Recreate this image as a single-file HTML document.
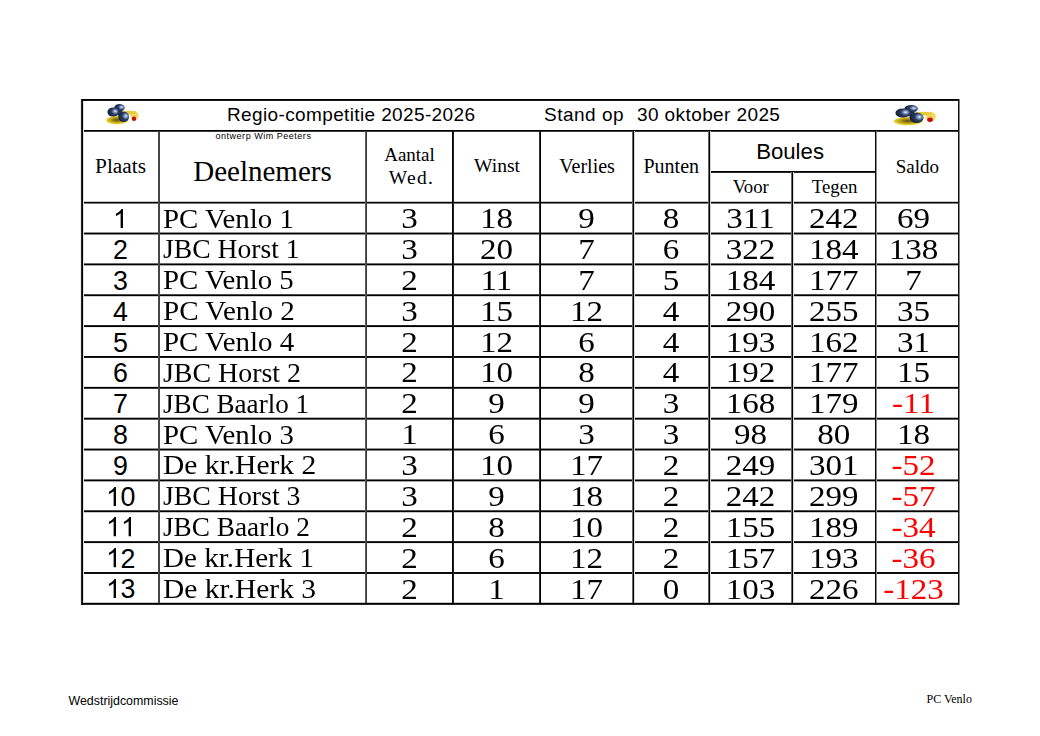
<!DOCTYPE html>
<html><head><meta charset="utf-8"><style>
html,body{margin:0;padding:0;background:#fff;}
body{width:1040px;height:736px;position:relative;overflow:hidden;color:#000;}
i{position:absolute;display:block;}
.t{position:absolute;white-space:nowrap;}
</style></head><body>
<svg class="t" style="left:104px;top:102px" width="38.0" height="26.0" viewBox="0 0 38 26" preserveAspectRatio="none">
<defs>
<radialGradient id="bga" cx="0.7" cy="0.42" r="0.8"><stop offset="0" stop-color="#eef6ff"/><stop offset="0.16" stop-color="#8aa2d2"/><stop offset="0.42" stop-color="#2c3d60"/><stop offset="1" stop-color="#0e1628"/></radialGradient>
<radialGradient id="yga" cx="0.45" cy="0.45" r="0.55"><stop offset="0" stop-color="#5a4810"/><stop offset="0.45" stop-color="#b8a018"/><stop offset="0.75" stop-color="#e6d030"/><stop offset="1" stop-color="#f4e890" stop-opacity="0"/></radialGradient>
<radialGradient id="pga" cx="0.5" cy="0.5" r="0.5"><stop offset="0" stop-color="#f0d050"/><stop offset="0.7" stop-color="#f2dc70"/><stop offset="1" stop-color="#f8eeb0" stop-opacity="0"/></radialGradient>
<filter id="fa" x="-0.2" y="-0.2" width="1.4" height="1.4"><feGaussianBlur stdDeviation="0.35"/></filter>
</defs>
<g filter="url(#fa)">
<ellipse cx="30.5" cy="13.5" rx="5" ry="5.5" fill="url(#pga)"/>
<ellipse cx="25" cy="10.6" rx="7" ry="1.8" fill="#e4cc38"/>
<ellipse cx="14" cy="18.4" rx="12" ry="4.6" fill="url(#yga)"/>
<ellipse cx="14.5" cy="10.5" rx="4" ry="3" fill="#26344c"/>
<ellipse cx="15.5" cy="5.8" rx="5.2" ry="3.9" fill="url(#bga)"/>
<ellipse cx="9" cy="10" rx="5.6" ry="4.6" fill="url(#bga)"/>
<ellipse cx="19.7" cy="14.8" rx="5.4" ry="5.2" fill="url(#bga)"/>
<circle cx="30" cy="16.8" r="2.2" fill="#c41010"/>
</g>
</svg>
<svg class="t" style="left:890.9px;top:102.8px" width="49.4" height="26.0" viewBox="0 0 38 26" preserveAspectRatio="none">
<defs>
<radialGradient id="bgb" cx="0.7" cy="0.42" r="0.8"><stop offset="0" stop-color="#eef6ff"/><stop offset="0.16" stop-color="#8aa2d2"/><stop offset="0.42" stop-color="#2c3d60"/><stop offset="1" stop-color="#0e1628"/></radialGradient>
<radialGradient id="ygb" cx="0.45" cy="0.45" r="0.55"><stop offset="0" stop-color="#5a4810"/><stop offset="0.45" stop-color="#b8a018"/><stop offset="0.75" stop-color="#e6d030"/><stop offset="1" stop-color="#f4e890" stop-opacity="0"/></radialGradient>
<radialGradient id="pgb" cx="0.5" cy="0.5" r="0.5"><stop offset="0" stop-color="#f0d050"/><stop offset="0.7" stop-color="#f2dc70"/><stop offset="1" stop-color="#f8eeb0" stop-opacity="0"/></radialGradient>
<filter id="fb" x="-0.2" y="-0.2" width="1.4" height="1.4"><feGaussianBlur stdDeviation="0.35"/></filter>
</defs>
<g filter="url(#fb)">
<ellipse cx="30.5" cy="13.5" rx="5" ry="5.5" fill="url(#pgb)"/>
<ellipse cx="25" cy="10.6" rx="7" ry="1.8" fill="#e4cc38"/>
<ellipse cx="14" cy="18.4" rx="12" ry="4.6" fill="url(#ygb)"/>
<ellipse cx="14.5" cy="10.5" rx="4" ry="3" fill="#26344c"/>
<ellipse cx="15.5" cy="5.8" rx="5.2" ry="3.9" fill="url(#bgb)"/>
<ellipse cx="9" cy="10" rx="5.6" ry="4.6" fill="url(#bgb)"/>
<ellipse cx="19.7" cy="14.8" rx="5.4" ry="5.2" fill="url(#bgb)"/>
<circle cx="30" cy="16.8" r="2.2" fill="#c41010"/>
</g>
</svg>
<i style="left:81px;top:99px;width:879px;height:1px;background:#000000"></i>
<i style="left:81px;top:100px;width:879px;height:1px;background:#141414"></i>
<i style="left:81px;top:130px;width:879px;height:1px;background:#000000"></i>
<i style="left:81px;top:131px;width:879px;height:1px;background:#3c3c3c"></i>
<i style="left:81px;top:201px;width:879px;height:1px;background:#c8c8c8"></i>
<i style="left:81px;top:202px;width:879px;height:1px;background:#000000"></i>
<i style="left:81px;top:203px;width:879px;height:1px;background:#787878"></i>
<i style="left:81px;top:232px;width:879px;height:1px;background:#919191"></i>
<i style="left:81px;top:233px;width:879px;height:1px;background:#000000"></i>
<i style="left:81px;top:234px;width:879px;height:1px;background:#878787"></i>
<i style="left:81px;top:263px;width:879px;height:1px;background:#6e6e6e"></i>
<i style="left:81px;top:264px;width:879px;height:1px;background:#000000"></i>
<i style="left:81px;top:265px;width:879px;height:1px;background:#ababab"></i>
<i style="left:81px;top:294px;width:879px;height:1px;background:#4a4a4a"></i>
<i style="left:81px;top:295px;width:879px;height:1px;background:#000000"></i>
<i style="left:81px;top:296px;width:879px;height:1px;background:#cfcfcf"></i>
<i style="left:81px;top:325px;width:879px;height:1px;background:#262626"></i>
<i style="left:81px;top:326px;width:879px;height:1px;background:#000000"></i>
<i style="left:81px;top:327px;width:879px;height:1px;background:#f2f2f2"></i>
<i style="left:81px;top:356px;width:879px;height:1px;background:#030303"></i>
<i style="left:81px;top:357px;width:879px;height:1px;background:#171717"></i>
<i style="left:81px;top:386px;width:879px;height:1px;background:#dedede"></i>
<i style="left:81px;top:387px;width:879px;height:1px;background:#000000"></i>
<i style="left:81px;top:388px;width:879px;height:1px;background:#3b3b3b"></i>
<i style="left:81px;top:417px;width:879px;height:1px;background:#bababa"></i>
<i style="left:81px;top:418px;width:879px;height:1px;background:#000000"></i>
<i style="left:81px;top:419px;width:879px;height:1px;background:#5e5e5e"></i>
<i style="left:81px;top:448px;width:879px;height:1px;background:#969696"></i>
<i style="left:81px;top:449px;width:879px;height:1px;background:#000000"></i>
<i style="left:81px;top:450px;width:879px;height:1px;background:#828282"></i>
<i style="left:81px;top:479px;width:879px;height:1px;background:#737373"></i>
<i style="left:81px;top:480px;width:879px;height:1px;background:#000000"></i>
<i style="left:81px;top:481px;width:879px;height:1px;background:#a6a6a6"></i>
<i style="left:81px;top:510px;width:879px;height:1px;background:#4f4f4f"></i>
<i style="left:81px;top:511px;width:879px;height:1px;background:#000000"></i>
<i style="left:81px;top:512px;width:879px;height:1px;background:#c9c9c9"></i>
<i style="left:81px;top:541px;width:879px;height:1px;background:#2b2b2b"></i>
<i style="left:81px;top:542px;width:879px;height:1px;background:#000000"></i>
<i style="left:81px;top:543px;width:879px;height:1px;background:#ededed"></i>
<i style="left:81px;top:572px;width:879px;height:1px;background:#080808"></i>
<i style="left:81px;top:573px;width:879px;height:1px;background:#121212"></i>
<i style="left:81px;top:602px;width:879px;height:1px;background:#c8c8c8"></i>
<i style="left:81px;top:603px;width:879px;height:1px;background:#000000"></i>
<i style="left:81px;top:604px;width:879px;height:1px;background:#282828"></i>
<i style="left:709px;top:171px;width:167px;height:1px;background:#000000"></i>
<i style="left:709px;top:172px;width:167px;height:1px;background:#282828"></i>
<i style="left:80px;top:99px;width:1px;height:506px;background:#ebebeb"></i>
<i style="left:81px;top:99px;width:1px;height:506px;background:#282828"></i>
<i style="left:82px;top:99px;width:1px;height:506px;background:#000000"></i>
<i style="left:83px;top:101px;width:1px;height:502px;background:#e1e1e1"></i>
<i style="left:958px;top:99px;width:1px;height:506px;background:#141414"></i>
<i style="left:959px;top:99px;width:1px;height:506px;background:#828282"></i>
<i style="left:158px;top:131px;width:1px;height:472px;background:#4b4b4b"></i>
<i style="left:159px;top:131px;width:1px;height:472px;background:#414141"></i>
<i style="left:365px;top:131px;width:1px;height:472px;background:#5a5a5a"></i>
<i style="left:366px;top:131px;width:1px;height:472px;background:#3c3c3c"></i>
<i style="left:452px;top:131px;width:1px;height:472px;background:#050505"></i>
<i style="left:453px;top:131px;width:1px;height:472px;background:#1e1e1e"></i>
<i style="left:539px;top:131px;width:1px;height:472px;background:#2d2d2d"></i>
<i style="left:540px;top:131px;width:1px;height:472px;background:#000000"></i>
<i style="left:632px;top:131px;width:1px;height:472px;background:#646464"></i>
<i style="left:633px;top:131px;width:1px;height:472px;background:#000000"></i>
<i style="left:634px;top:131px;width:1px;height:472px;background:#d7d7d7"></i>
<i style="left:708px;top:131px;width:1px;height:472px;background:#646464"></i>
<i style="left:709px;top:131px;width:1px;height:472px;background:#000000"></i>
<i style="left:710px;top:131px;width:1px;height:472px;background:#d7d7d7"></i>
<i style="left:875px;top:131px;width:1px;height:472px;background:#0a0a0a"></i>
<i style="left:876px;top:131px;width:1px;height:472px;background:#8c8c8c"></i>
<i style="left:791px;top:172px;width:1px;height:431px;background:#646464"></i>
<i style="left:792px;top:172px;width:1px;height:431px;background:#000000"></i>
<i style="left:793px;top:172px;width:1px;height:431px;background:#d7d7d7"></i>
<div class="t" style="top:105.22px;font-family:'Liberation Sans', sans-serif;font-size:19px;line-height:19px;left:227px;letter-spacing:0.37px;">Regio-competitie 2025-2026</div>
<div class="t" style="top:105.22px;font-family:'Liberation Sans', sans-serif;font-size:19px;line-height:19px;left:544px;letter-spacing:0.5px;">Stand op</div>
<div class="t" style="top:105.22px;font-family:'Liberation Sans', sans-serif;font-size:19px;line-height:19px;left:637px;letter-spacing:0.4px;">30 oktober 2025</div>
<div class="t" style="top:132.18px;font-family:'Liberation Sans', sans-serif;font-size:9px;line-height:9px;left:215.5px;letter-spacing:0.52px;">ontwerp Wim Peeters</div>
<div class="t" style="top:156.16px;font-family:'Liberation Serif', serif;font-size:21.3px;line-height:21.3px;left:82px;width:77.0px;text-align:center;">Plaats</div>
<div class="t" style="top:156.91px;font-family:'Liberation Serif', serif;font-size:29px;line-height:29px;left:159.0px;width:207.0px;text-align:center;">Deelnemers</div>
<div class="t" style="top:144.99px;font-family:'Liberation Serif', serif;font-size:19px;line-height:19px;left:366.0px;width:87.0px;text-align:center;">Aantal</div>
<div class="t" style="top:167.97px;font-family:'Liberation Serif', serif;font-size:19.5px;line-height:19.5px;left:368.0px;width:87.0px;text-align:center;letter-spacing:1.3px;">Wed.</div>
<div class="t" style="top:155.99px;font-family:'Liberation Serif', serif;font-size:19.6px;line-height:19.6px;left:453.5px;width:87.0px;text-align:center;">Winst</div>
<div class="t" style="top:155.65px;font-family:'Liberation Serif', serif;font-size:20px;line-height:20px;left:540.5px;width:93.25px;text-align:center;">Verlies</div>
<div class="t" style="top:155.65px;font-family:'Liberation Serif', serif;font-size:20px;line-height:20px;left:633.25px;width:76.0px;text-align:center;">Punten</div>
<div class="t" style="top:141.41px;font-family:'Liberation Sans', sans-serif;font-size:22.2px;line-height:22.2px;left:706.75px;width:166.64999999999998px;text-align:center;">Boules</div>
<div class="t" style="top:178.25px;font-family:'Liberation Serif', serif;font-size:18.8px;line-height:18.8px;left:709.25px;width:83.0px;text-align:center;">Voor</div>
<div class="t" style="top:178.25px;font-family:'Liberation Serif', serif;font-size:18.8px;line-height:18.8px;left:792.75px;width:83.64999999999998px;text-align:center;">Tegen</div>
<div class="t" style="top:156.69px;font-family:'Liberation Serif', serif;font-size:19px;line-height:19px;left:875.9px;width:83.10000000000002px;text-align:center;">Saldo</div>
<div class="t" style="top:206.07px;font-family:'Liberation Sans', sans-serif;font-size:26.8px;line-height:26.8px;left:82px;width:77.0px;text-align:center;"><svg viewBox="0 0 1139 1472" style="width:0.5562em;height:0.71875em"><path transform="translate(0,1472) scale(1,-1)" d="M763 0H583V1147Q518 1085 412.5 1023Q307 961 223 930V1104Q374 1175 487 1276Q600 1377 647 1472H763Z"/></svg></div>
<div class="t" style="top:204.53px;font-family:'Liberation Serif', serif;font-size:27.5px;line-height:27.5px;left:163.2px;transform:scaleX(1.048);transform-origin:0 0;">PC Venlo 1</div>
<div class="t" style="top:205.19px;font-family:'Liberation Serif', serif;font-size:28.5px;line-height:28.5px;left:366.0px;width:87.0px;text-align:center;transform:scaleX(1.16);">3</div>
<div class="t" style="top:205.19px;font-family:'Liberation Serif', serif;font-size:28.5px;line-height:28.5px;left:453.0px;width:87.0px;text-align:center;transform:scaleX(1.16);">18</div>
<div class="t" style="top:205.19px;font-family:'Liberation Serif', serif;font-size:28.5px;line-height:28.5px;left:540.0px;width:93.25px;text-align:center;transform:scaleX(1.16);">9</div>
<div class="t" style="top:205.19px;font-family:'Liberation Serif', serif;font-size:28.5px;line-height:28.5px;left:633.25px;width:76.0px;text-align:center;transform:scaleX(1.16);">8</div>
<div class="t" style="top:205.19px;font-family:'Liberation Serif', serif;font-size:28.5px;line-height:28.5px;left:709.25px;width:83.0px;text-align:center;transform:scaleX(1.16);">311</div>
<div class="t" style="top:205.19px;font-family:'Liberation Serif', serif;font-size:28.5px;line-height:28.5px;left:792.25px;width:83.64999999999998px;text-align:center;transform:scaleX(1.16);">242</div>
<div class="t" style="top:205.19px;font-family:'Liberation Serif', serif;font-size:28.5px;line-height:28.5px;left:868px;width:91px;text-align:center;transform:scaleX(1.16);">69</div>
<div class="t" style="top:236.93px;font-family:'Liberation Sans', sans-serif;font-size:26.8px;line-height:26.8px;left:82px;width:77.0px;text-align:center;">2</div>
<div class="t" style="top:235.39px;font-family:'Liberation Serif', serif;font-size:27.5px;line-height:27.5px;left:163.2px;transform:scaleX(1.004);transform-origin:0 0;">JBC Horst 1</div>
<div class="t" style="top:236.05px;font-family:'Liberation Serif', serif;font-size:28.5px;line-height:28.5px;left:366.0px;width:87.0px;text-align:center;transform:scaleX(1.16);">3</div>
<div class="t" style="top:236.05px;font-family:'Liberation Serif', serif;font-size:28.5px;line-height:28.5px;left:453.0px;width:87.0px;text-align:center;transform:scaleX(1.16);">20</div>
<div class="t" style="top:236.05px;font-family:'Liberation Serif', serif;font-size:28.5px;line-height:28.5px;left:540.0px;width:93.25px;text-align:center;transform:scaleX(1.16);">7</div>
<div class="t" style="top:236.05px;font-family:'Liberation Serif', serif;font-size:28.5px;line-height:28.5px;left:633.25px;width:76.0px;text-align:center;transform:scaleX(1.16);">6</div>
<div class="t" style="top:236.05px;font-family:'Liberation Serif', serif;font-size:28.5px;line-height:28.5px;left:709.25px;width:83.0px;text-align:center;transform:scaleX(1.16);">322</div>
<div class="t" style="top:236.05px;font-family:'Liberation Serif', serif;font-size:28.5px;line-height:28.5px;left:792.25px;width:83.64999999999998px;text-align:center;transform:scaleX(1.16);">184</div>
<div class="t" style="top:236.05px;font-family:'Liberation Serif', serif;font-size:28.5px;line-height:28.5px;left:868px;width:91px;text-align:center;transform:scaleX(1.16);">138</div>
<div class="t" style="top:267.79px;font-family:'Liberation Sans', sans-serif;font-size:26.8px;line-height:26.8px;left:82px;width:77.0px;text-align:center;">3</div>
<div class="t" style="top:266.25px;font-family:'Liberation Serif', serif;font-size:27.5px;line-height:27.5px;left:163.2px;transform:scaleX(1.047);transform-origin:0 0;">PC Venlo 5</div>
<div class="t" style="top:266.91px;font-family:'Liberation Serif', serif;font-size:28.5px;line-height:28.5px;left:366.0px;width:87.0px;text-align:center;transform:scaleX(1.16);">2</div>
<div class="t" style="top:266.91px;font-family:'Liberation Serif', serif;font-size:28.5px;line-height:28.5px;left:453.0px;width:87.0px;text-align:center;transform:scaleX(1.16);">11</div>
<div class="t" style="top:266.91px;font-family:'Liberation Serif', serif;font-size:28.5px;line-height:28.5px;left:540.0px;width:93.25px;text-align:center;transform:scaleX(1.16);">7</div>
<div class="t" style="top:266.91px;font-family:'Liberation Serif', serif;font-size:28.5px;line-height:28.5px;left:633.25px;width:76.0px;text-align:center;transform:scaleX(1.16);">5</div>
<div class="t" style="top:266.91px;font-family:'Liberation Serif', serif;font-size:28.5px;line-height:28.5px;left:709.25px;width:83.0px;text-align:center;transform:scaleX(1.16);">184</div>
<div class="t" style="top:266.91px;font-family:'Liberation Serif', serif;font-size:28.5px;line-height:28.5px;left:792.25px;width:83.64999999999998px;text-align:center;transform:scaleX(1.16);">177</div>
<div class="t" style="top:266.91px;font-family:'Liberation Serif', serif;font-size:28.5px;line-height:28.5px;left:868px;width:91px;text-align:center;transform:scaleX(1.16);">7</div>
<div class="t" style="top:298.65px;font-family:'Liberation Sans', sans-serif;font-size:26.8px;line-height:26.8px;left:82px;width:77.0px;text-align:center;">4</div>
<div class="t" style="top:297.11px;font-family:'Liberation Serif', serif;font-size:27.5px;line-height:27.5px;left:163.2px;transform:scaleX(1.0555);transform-origin:0 0;">PC Venlo 2</div>
<div class="t" style="top:297.77px;font-family:'Liberation Serif', serif;font-size:28.5px;line-height:28.5px;left:366.0px;width:87.0px;text-align:center;transform:scaleX(1.16);">3</div>
<div class="t" style="top:297.77px;font-family:'Liberation Serif', serif;font-size:28.5px;line-height:28.5px;left:453.0px;width:87.0px;text-align:center;transform:scaleX(1.16);">15</div>
<div class="t" style="top:297.77px;font-family:'Liberation Serif', serif;font-size:28.5px;line-height:28.5px;left:540.0px;width:93.25px;text-align:center;transform:scaleX(1.16);">12</div>
<div class="t" style="top:297.77px;font-family:'Liberation Serif', serif;font-size:28.5px;line-height:28.5px;left:633.25px;width:76.0px;text-align:center;transform:scaleX(1.16);">4</div>
<div class="t" style="top:297.77px;font-family:'Liberation Serif', serif;font-size:28.5px;line-height:28.5px;left:709.25px;width:83.0px;text-align:center;transform:scaleX(1.16);">290</div>
<div class="t" style="top:297.77px;font-family:'Liberation Serif', serif;font-size:28.5px;line-height:28.5px;left:792.25px;width:83.64999999999998px;text-align:center;transform:scaleX(1.16);">255</div>
<div class="t" style="top:297.77px;font-family:'Liberation Serif', serif;font-size:28.5px;line-height:28.5px;left:868px;width:91px;text-align:center;transform:scaleX(1.16);">35</div>
<div class="t" style="top:329.51px;font-family:'Liberation Sans', sans-serif;font-size:26.8px;line-height:26.8px;left:82px;width:77.0px;text-align:center;">5</div>
<div class="t" style="top:327.97px;font-family:'Liberation Serif', serif;font-size:27.5px;line-height:27.5px;left:163.2px;transform:scaleX(1.052);transform-origin:0 0;">PC Venlo 4</div>
<div class="t" style="top:328.63px;font-family:'Liberation Serif', serif;font-size:28.5px;line-height:28.5px;left:366.0px;width:87.0px;text-align:center;transform:scaleX(1.16);">2</div>
<div class="t" style="top:328.63px;font-family:'Liberation Serif', serif;font-size:28.5px;line-height:28.5px;left:453.0px;width:87.0px;text-align:center;transform:scaleX(1.16);">12</div>
<div class="t" style="top:328.63px;font-family:'Liberation Serif', serif;font-size:28.5px;line-height:28.5px;left:540.0px;width:93.25px;text-align:center;transform:scaleX(1.16);">6</div>
<div class="t" style="top:328.63px;font-family:'Liberation Serif', serif;font-size:28.5px;line-height:28.5px;left:633.25px;width:76.0px;text-align:center;transform:scaleX(1.16);">4</div>
<div class="t" style="top:328.63px;font-family:'Liberation Serif', serif;font-size:28.5px;line-height:28.5px;left:709.25px;width:83.0px;text-align:center;transform:scaleX(1.16);">193</div>
<div class="t" style="top:328.63px;font-family:'Liberation Serif', serif;font-size:28.5px;line-height:28.5px;left:792.25px;width:83.64999999999998px;text-align:center;transform:scaleX(1.16);">162</div>
<div class="t" style="top:328.63px;font-family:'Liberation Serif', serif;font-size:28.5px;line-height:28.5px;left:868px;width:91px;text-align:center;transform:scaleX(1.16);">31</div>
<div class="t" style="top:360.37px;font-family:'Liberation Sans', sans-serif;font-size:26.8px;line-height:26.8px;left:82px;width:77.0px;text-align:center;">6</div>
<div class="t" style="top:358.83px;font-family:'Liberation Serif', serif;font-size:27.5px;line-height:27.5px;left:163.2px;transform:scaleX(1.015);transform-origin:0 0;">JBC Horst 2</div>
<div class="t" style="top:359.49px;font-family:'Liberation Serif', serif;font-size:28.5px;line-height:28.5px;left:366.0px;width:87.0px;text-align:center;transform:scaleX(1.16);">2</div>
<div class="t" style="top:359.49px;font-family:'Liberation Serif', serif;font-size:28.5px;line-height:28.5px;left:453.0px;width:87.0px;text-align:center;transform:scaleX(1.16);">10</div>
<div class="t" style="top:359.49px;font-family:'Liberation Serif', serif;font-size:28.5px;line-height:28.5px;left:540.0px;width:93.25px;text-align:center;transform:scaleX(1.16);">8</div>
<div class="t" style="top:359.49px;font-family:'Liberation Serif', serif;font-size:28.5px;line-height:28.5px;left:633.25px;width:76.0px;text-align:center;transform:scaleX(1.16);">4</div>
<div class="t" style="top:359.49px;font-family:'Liberation Serif', serif;font-size:28.5px;line-height:28.5px;left:709.25px;width:83.0px;text-align:center;transform:scaleX(1.16);">192</div>
<div class="t" style="top:359.49px;font-family:'Liberation Serif', serif;font-size:28.5px;line-height:28.5px;left:792.25px;width:83.64999999999998px;text-align:center;transform:scaleX(1.16);">177</div>
<div class="t" style="top:359.49px;font-family:'Liberation Serif', serif;font-size:28.5px;line-height:28.5px;left:868px;width:91px;text-align:center;transform:scaleX(1.16);">15</div>
<div class="t" style="top:391.23px;font-family:'Liberation Sans', sans-serif;font-size:26.8px;line-height:26.8px;left:82px;width:77.0px;text-align:center;">7</div>
<div class="t" style="top:389.69px;font-family:'Liberation Serif', serif;font-size:27.5px;line-height:27.5px;left:163.2px;transform:scaleX(0.986);transform-origin:0 0;">JBC Baarlo 1</div>
<div class="t" style="top:390.35px;font-family:'Liberation Serif', serif;font-size:28.5px;line-height:28.5px;left:366.0px;width:87.0px;text-align:center;transform:scaleX(1.16);">2</div>
<div class="t" style="top:390.35px;font-family:'Liberation Serif', serif;font-size:28.5px;line-height:28.5px;left:453.0px;width:87.0px;text-align:center;transform:scaleX(1.16);">9</div>
<div class="t" style="top:390.35px;font-family:'Liberation Serif', serif;font-size:28.5px;line-height:28.5px;left:540.0px;width:93.25px;text-align:center;transform:scaleX(1.16);">9</div>
<div class="t" style="top:390.35px;font-family:'Liberation Serif', serif;font-size:28.5px;line-height:28.5px;left:633.25px;width:76.0px;text-align:center;transform:scaleX(1.16);">3</div>
<div class="t" style="top:390.35px;font-family:'Liberation Serif', serif;font-size:28.5px;line-height:28.5px;left:709.25px;width:83.0px;text-align:center;transform:scaleX(1.16);">168</div>
<div class="t" style="top:390.35px;font-family:'Liberation Serif', serif;font-size:28.5px;line-height:28.5px;left:792.25px;width:83.64999999999998px;text-align:center;transform:scaleX(1.16);">179</div>
<div class="t" style="top:390.35px;font-family:'Liberation Serif', serif;font-size:28.5px;line-height:28.5px;left:868px;width:91px;text-align:center;transform:scaleX(1.16);color:#f00;">-11</div>
<div class="t" style="top:422.09px;font-family:'Liberation Sans', sans-serif;font-size:26.8px;line-height:26.8px;left:82px;width:77.0px;text-align:center;">8</div>
<div class="t" style="top:420.55px;font-family:'Liberation Serif', serif;font-size:27.5px;line-height:27.5px;left:163.2px;transform:scaleX(1.048);transform-origin:0 0;">PC Venlo 3</div>
<div class="t" style="top:421.21px;font-family:'Liberation Serif', serif;font-size:28.5px;line-height:28.5px;left:366.0px;width:87.0px;text-align:center;transform:scaleX(1.16);">1</div>
<div class="t" style="top:421.21px;font-family:'Liberation Serif', serif;font-size:28.5px;line-height:28.5px;left:453.0px;width:87.0px;text-align:center;transform:scaleX(1.16);">6</div>
<div class="t" style="top:421.21px;font-family:'Liberation Serif', serif;font-size:28.5px;line-height:28.5px;left:540.0px;width:93.25px;text-align:center;transform:scaleX(1.16);">3</div>
<div class="t" style="top:421.21px;font-family:'Liberation Serif', serif;font-size:28.5px;line-height:28.5px;left:633.25px;width:76.0px;text-align:center;transform:scaleX(1.16);">3</div>
<div class="t" style="top:421.21px;font-family:'Liberation Serif', serif;font-size:28.5px;line-height:28.5px;left:709.25px;width:83.0px;text-align:center;transform:scaleX(1.16);">98</div>
<div class="t" style="top:421.21px;font-family:'Liberation Serif', serif;font-size:28.5px;line-height:28.5px;left:792.25px;width:83.64999999999998px;text-align:center;transform:scaleX(1.16);">80</div>
<div class="t" style="top:421.21px;font-family:'Liberation Serif', serif;font-size:28.5px;line-height:28.5px;left:868px;width:91px;text-align:center;transform:scaleX(1.16);">18</div>
<div class="t" style="top:452.95px;font-family:'Liberation Sans', sans-serif;font-size:26.8px;line-height:26.8px;left:82px;width:77.0px;text-align:center;">9</div>
<div class="t" style="top:451.41px;font-family:'Liberation Serif', serif;font-size:27.5px;line-height:27.5px;left:163.2px;transform:scaleX(1.073);transform-origin:0 0;">De kr.Herk 2</div>
<div class="t" style="top:452.07px;font-family:'Liberation Serif', serif;font-size:28.5px;line-height:28.5px;left:366.0px;width:87.0px;text-align:center;transform:scaleX(1.16);">3</div>
<div class="t" style="top:452.07px;font-family:'Liberation Serif', serif;font-size:28.5px;line-height:28.5px;left:453.0px;width:87.0px;text-align:center;transform:scaleX(1.16);">10</div>
<div class="t" style="top:452.07px;font-family:'Liberation Serif', serif;font-size:28.5px;line-height:28.5px;left:540.0px;width:93.25px;text-align:center;transform:scaleX(1.16);">17</div>
<div class="t" style="top:452.07px;font-family:'Liberation Serif', serif;font-size:28.5px;line-height:28.5px;left:633.25px;width:76.0px;text-align:center;transform:scaleX(1.16);">2</div>
<div class="t" style="top:452.07px;font-family:'Liberation Serif', serif;font-size:28.5px;line-height:28.5px;left:709.25px;width:83.0px;text-align:center;transform:scaleX(1.16);">249</div>
<div class="t" style="top:452.07px;font-family:'Liberation Serif', serif;font-size:28.5px;line-height:28.5px;left:792.25px;width:83.64999999999998px;text-align:center;transform:scaleX(1.16);">301</div>
<div class="t" style="top:452.07px;font-family:'Liberation Serif', serif;font-size:28.5px;line-height:28.5px;left:868px;width:91px;text-align:center;transform:scaleX(1.16);color:#f00;">-52</div>
<div class="t" style="top:483.81px;font-family:'Liberation Sans', sans-serif;font-size:26.8px;line-height:26.8px;left:82px;width:77.0px;text-align:center;"><svg viewBox="0 0 1139 1472" style="width:0.5562em;height:0.71875em"><path transform="translate(0,1472) scale(1,-1)" d="M763 0H583V1147Q518 1085 412.5 1023Q307 961 223 930V1104Q374 1175 487 1276Q600 1377 647 1472H763Z"/></svg>0</div>
<div class="t" style="top:482.27px;font-family:'Liberation Serif', serif;font-size:27.5px;line-height:27.5px;left:163.2px;transform:scaleX(1.011);transform-origin:0 0;">JBC Horst 3</div>
<div class="t" style="top:482.93px;font-family:'Liberation Serif', serif;font-size:28.5px;line-height:28.5px;left:366.0px;width:87.0px;text-align:center;transform:scaleX(1.16);">3</div>
<div class="t" style="top:482.93px;font-family:'Liberation Serif', serif;font-size:28.5px;line-height:28.5px;left:453.0px;width:87.0px;text-align:center;transform:scaleX(1.16);">9</div>
<div class="t" style="top:482.93px;font-family:'Liberation Serif', serif;font-size:28.5px;line-height:28.5px;left:540.0px;width:93.25px;text-align:center;transform:scaleX(1.16);">18</div>
<div class="t" style="top:482.93px;font-family:'Liberation Serif', serif;font-size:28.5px;line-height:28.5px;left:633.25px;width:76.0px;text-align:center;transform:scaleX(1.16);">2</div>
<div class="t" style="top:482.93px;font-family:'Liberation Serif', serif;font-size:28.5px;line-height:28.5px;left:709.25px;width:83.0px;text-align:center;transform:scaleX(1.16);">242</div>
<div class="t" style="top:482.93px;font-family:'Liberation Serif', serif;font-size:28.5px;line-height:28.5px;left:792.25px;width:83.64999999999998px;text-align:center;transform:scaleX(1.16);">299</div>
<div class="t" style="top:482.93px;font-family:'Liberation Serif', serif;font-size:28.5px;line-height:28.5px;left:868px;width:91px;text-align:center;transform:scaleX(1.16);color:#f00;">-57</div>
<div class="t" style="top:514.67px;font-family:'Liberation Sans', sans-serif;font-size:26.8px;line-height:26.8px;left:82px;width:77.0px;text-align:center;"><svg viewBox="0 0 1139 1472" style="width:0.5562em;height:0.71875em"><path transform="translate(0,1472) scale(1,-1)" d="M763 0H583V1147Q518 1085 412.5 1023Q307 961 223 930V1104Q374 1175 487 1276Q600 1377 647 1472H763Z"/></svg><svg viewBox="0 0 1139 1472" style="width:0.5562em;height:0.71875em"><path transform="translate(0,1472) scale(1,-1)" d="M763 0H583V1147Q518 1085 412.5 1023Q307 961 223 930V1104Q374 1175 487 1276Q600 1377 647 1472H763Z"/></svg></div>
<div class="t" style="top:513.13px;font-family:'Liberation Serif', serif;font-size:27.5px;line-height:27.5px;left:163.2px;transform:scaleX(0.991);transform-origin:0 0;">JBC Baarlo 2</div>
<div class="t" style="top:513.79px;font-family:'Liberation Serif', serif;font-size:28.5px;line-height:28.5px;left:366.0px;width:87.0px;text-align:center;transform:scaleX(1.16);">2</div>
<div class="t" style="top:513.79px;font-family:'Liberation Serif', serif;font-size:28.5px;line-height:28.5px;left:453.0px;width:87.0px;text-align:center;transform:scaleX(1.16);">8</div>
<div class="t" style="top:513.79px;font-family:'Liberation Serif', serif;font-size:28.5px;line-height:28.5px;left:540.0px;width:93.25px;text-align:center;transform:scaleX(1.16);">10</div>
<div class="t" style="top:513.79px;font-family:'Liberation Serif', serif;font-size:28.5px;line-height:28.5px;left:633.25px;width:76.0px;text-align:center;transform:scaleX(1.16);">2</div>
<div class="t" style="top:513.79px;font-family:'Liberation Serif', serif;font-size:28.5px;line-height:28.5px;left:709.25px;width:83.0px;text-align:center;transform:scaleX(1.16);">155</div>
<div class="t" style="top:513.79px;font-family:'Liberation Serif', serif;font-size:28.5px;line-height:28.5px;left:792.25px;width:83.64999999999998px;text-align:center;transform:scaleX(1.16);">189</div>
<div class="t" style="top:513.79px;font-family:'Liberation Serif', serif;font-size:28.5px;line-height:28.5px;left:868px;width:91px;text-align:center;transform:scaleX(1.16);color:#f00;">-34</div>
<div class="t" style="top:545.53px;font-family:'Liberation Sans', sans-serif;font-size:26.8px;line-height:26.8px;left:82px;width:77.0px;text-align:center;"><svg viewBox="0 0 1139 1472" style="width:0.5562em;height:0.71875em"><path transform="translate(0,1472) scale(1,-1)" d="M763 0H583V1147Q518 1085 412.5 1023Q307 961 223 930V1104Q374 1175 487 1276Q600 1377 647 1472H763Z"/></svg>2</div>
<div class="t" style="top:543.99px;font-family:'Liberation Serif', serif;font-size:27.5px;line-height:27.5px;left:163.2px;transform:scaleX(1.0585);transform-origin:0 0;">De kr.Herk 1</div>
<div class="t" style="top:544.65px;font-family:'Liberation Serif', serif;font-size:28.5px;line-height:28.5px;left:366.0px;width:87.0px;text-align:center;transform:scaleX(1.16);">2</div>
<div class="t" style="top:544.65px;font-family:'Liberation Serif', serif;font-size:28.5px;line-height:28.5px;left:453.0px;width:87.0px;text-align:center;transform:scaleX(1.16);">6</div>
<div class="t" style="top:544.65px;font-family:'Liberation Serif', serif;font-size:28.5px;line-height:28.5px;left:540.0px;width:93.25px;text-align:center;transform:scaleX(1.16);">12</div>
<div class="t" style="top:544.65px;font-family:'Liberation Serif', serif;font-size:28.5px;line-height:28.5px;left:633.25px;width:76.0px;text-align:center;transform:scaleX(1.16);">2</div>
<div class="t" style="top:544.65px;font-family:'Liberation Serif', serif;font-size:28.5px;line-height:28.5px;left:709.25px;width:83.0px;text-align:center;transform:scaleX(1.16);">157</div>
<div class="t" style="top:544.65px;font-family:'Liberation Serif', serif;font-size:28.5px;line-height:28.5px;left:792.25px;width:83.64999999999998px;text-align:center;transform:scaleX(1.16);">193</div>
<div class="t" style="top:544.65px;font-family:'Liberation Serif', serif;font-size:28.5px;line-height:28.5px;left:868px;width:91px;text-align:center;transform:scaleX(1.16);color:#f00;">-36</div>
<div class="t" style="top:576.39px;font-family:'Liberation Sans', sans-serif;font-size:26.8px;line-height:26.8px;left:82px;width:77.0px;text-align:center;"><svg viewBox="0 0 1139 1472" style="width:0.5562em;height:0.71875em"><path transform="translate(0,1472) scale(1,-1)" d="M763 0H583V1147Q518 1085 412.5 1023Q307 961 223 930V1104Q374 1175 487 1276Q600 1377 647 1472H763Z"/></svg>3</div>
<div class="t" style="top:574.85px;font-family:'Liberation Serif', serif;font-size:27.5px;line-height:27.5px;left:163.2px;transform:scaleX(1.071);transform-origin:0 0;">De kr.Herk 3</div>
<div class="t" style="top:575.51px;font-family:'Liberation Serif', serif;font-size:28.5px;line-height:28.5px;left:366.0px;width:87.0px;text-align:center;transform:scaleX(1.16);">2</div>
<div class="t" style="top:575.51px;font-family:'Liberation Serif', serif;font-size:28.5px;line-height:28.5px;left:453.0px;width:87.0px;text-align:center;transform:scaleX(1.16);">1</div>
<div class="t" style="top:575.51px;font-family:'Liberation Serif', serif;font-size:28.5px;line-height:28.5px;left:540.0px;width:93.25px;text-align:center;transform:scaleX(1.16);">17</div>
<div class="t" style="top:575.51px;font-family:'Liberation Serif', serif;font-size:28.5px;line-height:28.5px;left:633.25px;width:76.0px;text-align:center;transform:scaleX(1.16);">0</div>
<div class="t" style="top:575.51px;font-family:'Liberation Serif', serif;font-size:28.5px;line-height:28.5px;left:709.25px;width:83.0px;text-align:center;transform:scaleX(1.16);">103</div>
<div class="t" style="top:575.51px;font-family:'Liberation Serif', serif;font-size:28.5px;line-height:28.5px;left:792.25px;width:83.64999999999998px;text-align:center;transform:scaleX(1.16);">226</div>
<div class="t" style="top:575.51px;font-family:'Liberation Serif', serif;font-size:28.5px;line-height:28.5px;left:868px;width:91px;text-align:center;transform:scaleX(1.16);color:#f00;">-123</div>
<div class="t" style="top:694.50px;font-family:'Liberation Sans', sans-serif;font-size:12.4px;line-height:12.4px;left:68.5px;">Wedstrijdcommissie</div>
<div class="t" style="top:693.35px;font-family:'Liberation Serif', serif;font-size:12px;line-height:12px;left:926.5px;">PC Venlo</div>
</body></html>
